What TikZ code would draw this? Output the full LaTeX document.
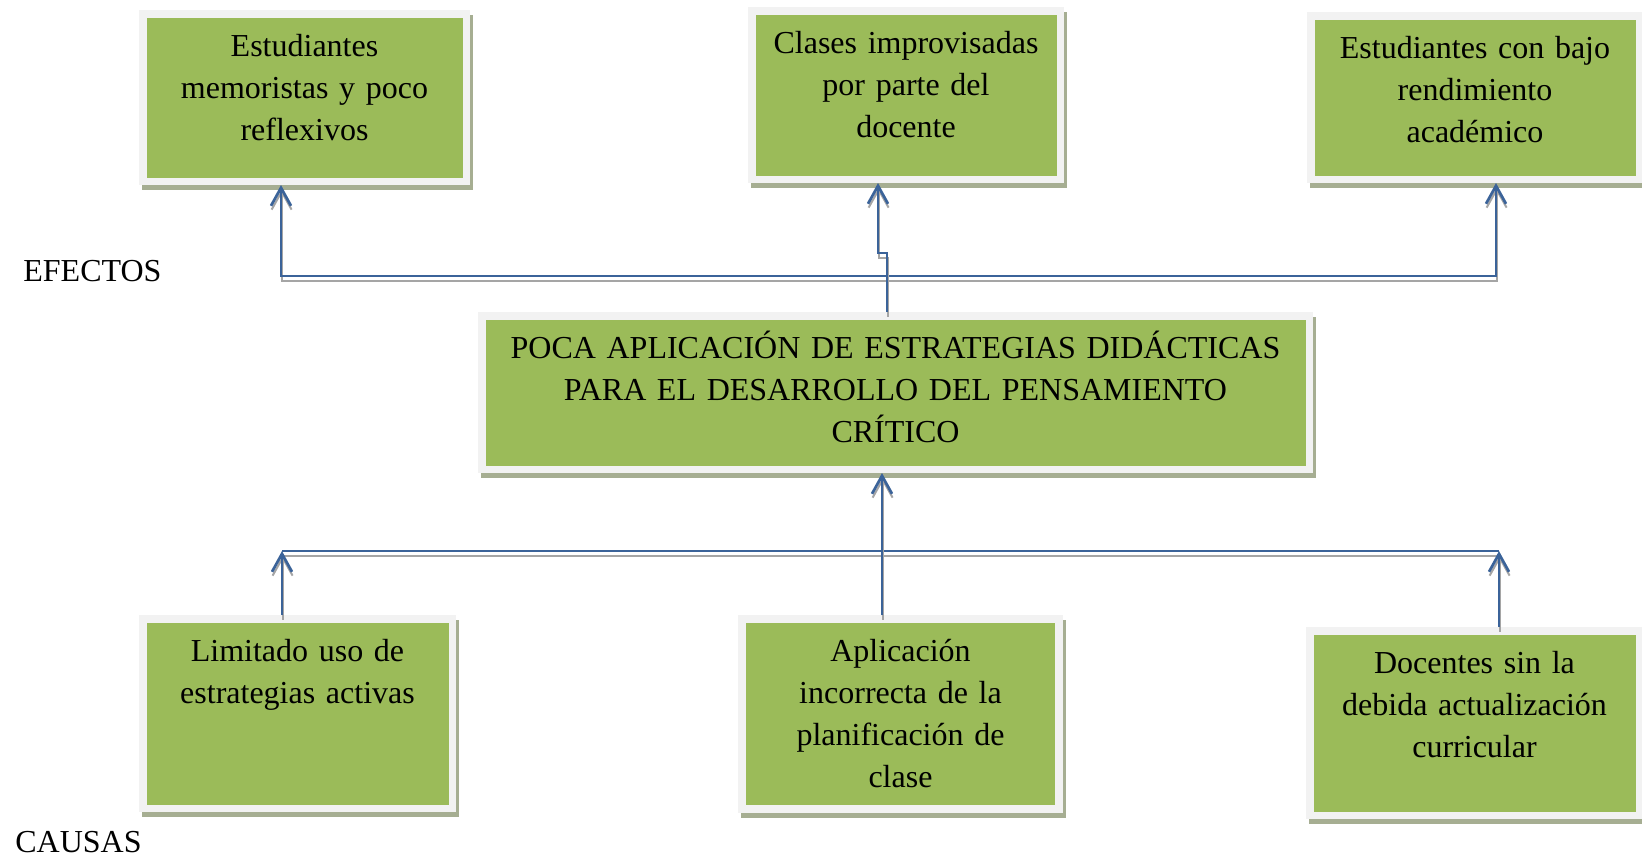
\documentclass[tikz,border=0pt]{standalone}
\usepackage{fontspec}
\setmainfont{Liberation Serif}
\usetikzlibrary{arrows.meta, positioning}
\definecolor{boxgreen}{RGB}{155,187,89}
\definecolor{boxrim}{RGB}{242,242,242}
\definecolor{boxshade}{RGB}{166,174,146}
\definecolor{linkblue}{RGB}{59,99,153}
\definecolor{linkshade}{RGB}{165,165,165}
\tikzset{
    box/.style={
        rectangle, draw=boxrim, line width=3.75pt, fill=boxgreen, inner sep=0pt,
        preaction={draw=boxshade, fill=boxshade,
            transform canvas={shift={(1.5pt,-2.5pt)}}}
    },
    boxtext/.style={
        text width=155pt, align=center, text height=15pt, inner sep=0pt,
        font=\fontsize{16}{21}\selectfont
    },
    tag/.style={inner sep=0pt, anchor=base west, font=\fontsize{16}{21}\selectfont},
    link/.style={
        draw=linkblue, line width=1.35pt,
        preaction={draw=linkshade, line width=1pt,
            transform canvas={shift={(0.3pt,-2.3pt)}}}
    },
    >={Straight Barb[length=9pt, width=10pt]}
}
\begin{document}
\begin{tikzpicture}[x=0.5pt, y=-0.5pt]
\useasboundingbox (0,0) rectangle (1642,857);

% Efectos
\node[box, minimum width=161.75pt, minimum height=83.75pt] (efecto1) at (304.5,97.5) {};
\node[boxtext] (efecto1txt) at (efecto1.north) [below=8pt] {Estudiantes\\memoristas y poco\\reflexivos};
\node[box, minimum width=154.25pt, minimum height=84.25pt] (efecto2) at (906,95) {};
\node[boxtext] (efecto2txt) at (efecto2.north) [below=8pt] {Clases improvisadas\\por parte del\\docente};
\node[box, minimum width=164.25pt, minimum height=81.75pt] (efecto3) at (1475,97.5) {};
\node[boxtext] (efecto3txt) at (efecto3.north) [below=8pt] {Estudiantes con bajo\\rendimiento\\académico};

% Problema central
\node[box, minimum width=413.75pt, minimum height=76.75pt] (problema) at (895.5,392.5) {};
\node[boxtext, text width=405pt] (problematxt) at (problema.north) [below=8pt] {POCA APLICACIÓN DE ESTRATEGIAS DIDÁCTICAS\\PARA EL DESARROLLO DEL PENSAMIENTO\\CRÍTICO};

% Causas
\node[box, minimum width=154.75pt, minimum height=94.75pt] (causa1) at (297.5,713.5) {};
\node[boxtext] (causa1txt) at (causa1.north) [below=8pt] {Limitado uso de\\estrategias activas};
\node[box, minimum width=158.5pt, minimum height=95pt] (causa2) at (900.5,714) {};
\node[boxtext] (causa2txt) at (causa2.north) [below=8pt] {Aplicación\\incorrecta de la\\planificación de\\clase};
\node[box, minimum width=164.75pt, minimum height=92.25pt] (causa3) at (1474.5,723) {};
\node[boxtext] (causa3txt) at (causa3.north) [below=8pt] {Docentes sin la\\debida actualización\\curricular};

% Etiquetas
\node[tag] (efectos) at (23,281) {EFECTOS};
\node[tag] (causas) at (15,852) {CAUSAS};

% Conectores
\coordinate (e1) at (281,276);
\coordinate (e3) at (1496,276);
\coordinate (q1) at (887,253);
\coordinate (q2) at (878,253);
\coordinate (c1) at (282,551);
\coordinate (c2) at (882,551);
\coordinate (c3) at (1499,551);

\draw[link, <->] (efecto1.south -| e1) -- (e1) -- (e3) -- (efecto3.south -| e3);
\draw[link, ->] (problema.north -| q1) -- (q1) -- (q2) -- (efecto2.south -| q2);
\draw[link] (c1) -- (c3);
\draw[link, ->] (causa1.north -| c1) -- (c1);
\draw[link, ->] (causa2.north -| c2) -- (problema.south -| c2);
\draw[link, ->] (causa3.north -| c3) -- (c3);

\end{tikzpicture}
\end{document}
